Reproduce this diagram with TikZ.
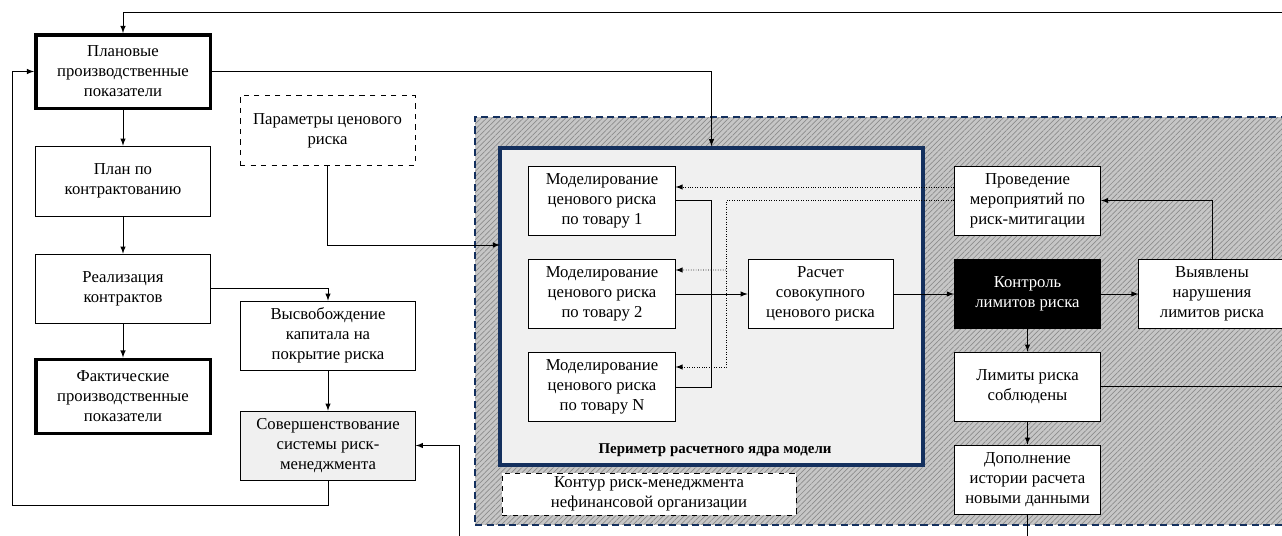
\documentclass[tikz,border=0pt]{standalone}
\usepackage{fontspec}
\setmainfont{Liberation Serif}
\usepackage{tikz}
\usetikzlibrary{patterns}

\definecolor{navy}{HTML}{14305E}

\tikzset{
  box/.style={draw, fill=white, align=center, minimum width=3.5cm, minimum height=1.4cm, inner sep=1pt,
    font=\fontsize{9.5}{11.4}\selectfont},
  mbox/.style={box, minimum width=2.93cm, minimum height=1.38cm},
  mainbox/.style={box, line width=1.7pt, minimum height=1.48cm},
}

\begin{document}
\begin{tikzpicture}[x=0.02cm, y=-0.02cm]
    \useasboundingbox (0,0) rectangle (1282,536);
    \clip (0,0) rectangle (1282,536);

    % zones
    \node [draw=navy, line width=1.2pt, dash pattern=on 4pt off 2.5pt, preaction={fill=gray!45},
           pattern=north east lines, pattern color=gray!90,
           minimum width=16.5cm, minimum height=8.16cm] (zone) at (887.5,321) {};
    \node [draw=navy, line width=2pt, fill=gray!12, minimum width=8.46cm, minimum height=6.34cm] (core) at (711.5,306.5) {};
    \node [font=\bfseries\fontsize{8.5}{10}\selectfont] (coreLbl) at (715,450) {Периметр расчетного ядра модели};
    \node [box, dashed, minimum width=5.88cm, minimum height=0.84cm] (kontur) at (649,494) {Контур риск-менеджмента\\нефинансовой организации};

    % left column
    \node [mainbox] (plan) at (123,71.5) {Плановые\\производственные\\показатели};
    \node [box] (kontr) at (123,181) {План по\\контрактованию};
    \node [box, minimum height=1.38cm] (real) at (123,288.5) {Реализация\\контрактов};
    \node [mainbox, minimum height=1.5cm] (fakt) at (123,396.5) {Фактические\\производственные\\показатели};
    \foreach \n in {plan,fakt}
        \draw [line width=0.5pt] ([shift={(1.7pt,-1.7pt)}]\n.north west) rectangle ([shift={(-1.7pt,1.7pt)}]\n.south east);

    \node [box, dashed] (param) at (327.5,130.5) {Параметры ценового\\риска};
    \node [box, minimum height=1.38cm] (osvob) at (328,335.5) {Высвобождение\\капитала на\\покрытие риска};
    \node [box, fill=gray!12, minimum height=1.38cm] (sover) at (328,445.5) {Совершенствование\\системы риск-\\менеджмента};

    % model core
    \node [mbox] (m1) at (602,200.5) {Моделирование\\ценового риска\\по товару 1};
    \node [mbox] (m2) at (602,294) {Моделирование\\ценового риска\\по товару 2};
    \node [mbox] (mN) at (602,387) {Моделирование\\ценового риска\\по товару N};
    \node [mbox, minimum width=2.9cm] (sum) at (820.5,294) {Расчет\\совокупного\\ценового риска};

    % right part
    \node [mbox] (mitig) at (1027.5,200.5) {Проведение\\мероприятий по\\риск-митигации};
    \node [mbox, fill=black, text=white] (ctrl) at (1027.5,294) {Контроль\\лимитов риска};
    \node [mbox] (viol) at (1212,294) {Выявлены\\нарушения\\лимитов риска};
    \node [mbox] (ok) at (1027.5,386.5) {Лимиты риска\\соблюдены};
    \node [mbox] (hist) at (1027.5,479.5) {Дополнение\\истории расчета\\новыми данными};

    \coordinate (topR) at (1282,12);
    \coordinate (loopL) at (12,505);
    \coordinate (pin) at (500,245);
    \coordinate (botS) at (459,536);
    \coordinate (bus) at (711,387);
    \coordinate (tap) at (726,270);
    \coordinate (okR) at (1282,386.5);
    \coordinate (histB) at (1027.5,536);

    \draw [-latex] (topR) -| (plan.north);
    \draw [-latex] (plan.east) -| (core.north);
    \draw [-latex] (plan) edge (kontr);
    \draw [-latex] (kontr) edge (real);
    \draw [-latex] (real) edge (fakt);
    \draw [-latex] (real.east) -| (osvob.north);
    \draw [-latex] (osvob) edge (sover);
    \draw [-latex] (sover.south) |- (loopL) |- (plan.west);
    \draw [-latex] (param.south) |- (pin);
    \draw [-latex] (botS) |- (sover.east);

    \draw (m1.east) -| (bus) -- (mN.east);
    \draw [-latex] (m2) edge (sum);
    \draw [-latex, densely dotted] ([yshift=0.27cm]mitig.west) -- ([yshift=0.27cm]m1.east);
    \draw [-latex, densely dotted] (mitig.west) -| ([xshift=1.02cm, yshift=0.4cm]mN.east) -- ([yshift=0.4cm]mN.east);
    \draw [-latex, densely dotted] (tap) -- ([yshift=0.48cm]m2.east);

    \draw [-latex] (sum) edge (ctrl);
    \draw [-latex] (ctrl) edge (viol);
    \draw [-latex] (viol.north) |- (mitig.east);
    \draw [-latex] (ctrl) edge (ok);
    \draw [-latex] (ok) edge (hist);
    \draw (ok.east) -- (okR);
    \draw (hist.south) -- (histB);
\end{tikzpicture}
\end{document}
